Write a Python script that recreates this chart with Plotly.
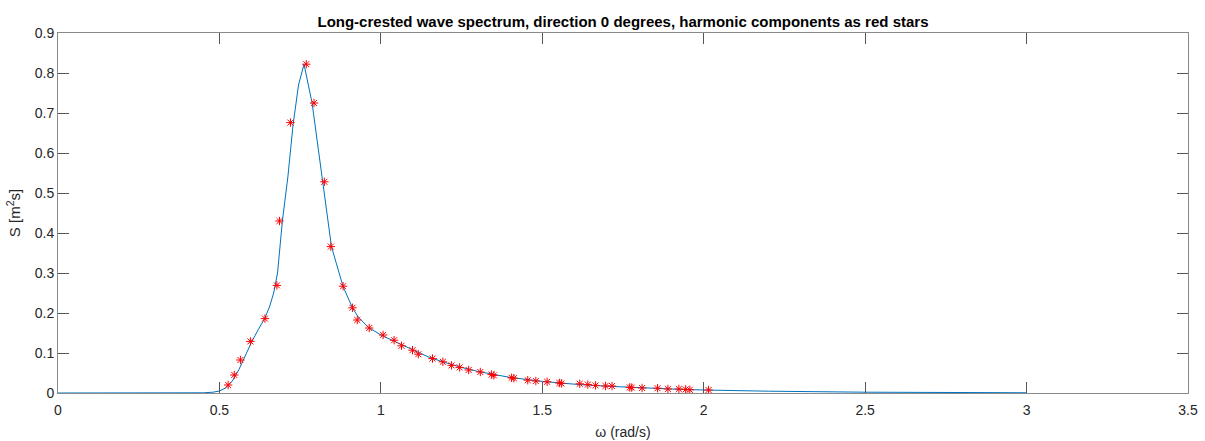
import plotly.graph_objects as go

# Continuous spectrum curve
omega_line = [0.0, 0.40, 0.45, 0.48, 0.50, 0.52, 0.54, 0.56, 0.58, 0.60, 0.62, 0.64, 0.655, 0.668,
              0.68, 0.695, 0.712, 0.728, 0.745, 0.762, 0.787, 0.819, 0.847, 0.883, 0.912, 0.93, 0.96,
              1.00, 1.05, 1.10, 1.15, 1.20, 1.25, 1.30, 1.35, 1.40, 1.50, 1.60, 1.70, 1.80, 1.90,
              2.00, 2.20, 2.50, 2.80, 3.00]
S_line = [0.0, 0.0, 0.0005, 0.002, 0.005, 0.013, 0.030, 0.058, 0.095, 0.128, 0.158, 0.186, 0.215, 0.250,
          0.300, 0.430, 0.540, 0.670, 0.770, 0.822, 0.725, 0.528, 0.366, 0.266, 0.213, 0.19, 0.165,
          0.145, 0.126, 0.106, 0.089, 0.076, 0.064, 0.054, 0.046, 0.039, 0.029, 0.022, 0.017, 0.013, 0.010,
          0.0075, 0.0045, 0.002, 0.001, 0.0006]

# Harmonic components (red stars)
omega_h = [0.527, 0.546, 0.565, 0.596, 0.641, 0.678, 0.686, 0.720, 0.769, 0.793, 0.825, 0.845,
           0.883, 0.912, 0.927, 0.964, 1.007, 1.041, 1.064, 1.098, 1.116, 1.160, 1.192, 1.219,
           1.244, 1.272, 1.308, 1.343, 1.350, 1.405, 1.412, 1.455, 1.480, 1.515, 1.553, 1.559,
           1.616, 1.641, 1.665, 1.696, 1.716, 1.771, 1.777, 1.809, 1.857, 1.889, 1.923, 1.944,
           1.957, 2.015]
S_h = [0.020, 0.045, 0.0825, 0.129, 0.186, 0.269, 0.430, 0.676, 0.822, 0.725, 0.528, 0.366,
       0.267, 0.213, 0.1825, 0.1625, 0.145, 0.132, 0.118, 0.107, 0.097, 0.086, 0.078, 0.069,
       0.064, 0.0575, 0.0525, 0.046, 0.044, 0.038, 0.037, 0.032, 0.030, 0.028, 0.025, 0.024,
       0.023, 0.021, 0.019, 0.0175, 0.0175, 0.014, 0.0135, 0.0125, 0.012, 0.010, 0.010, 0.009,
       0.008, 0.0075]

x_ticks = [0, 0.5, 1, 1.5, 2, 2.5, 3, 3.5]
x_ticklabels = ["0", "0.5", "1", "1.5", "2", "2.5", "3", "3.5"]
y_ticks = [0, 0.1, 0.2, 0.3, 0.4, 0.5, 0.6, 0.7, 0.8, 0.9]
y_ticklabels = ["0", "0.1", "0.2", "0.3", "0.4", "0.5", "0.6", "0.7", "0.8", "0.9"]

FONT = "Liberation Sans, Arial, sans-serif"

fig = go.Figure()
fig.add_trace(go.Scatter(x=omega_line, y=S_line, mode="lines",
                         line=dict(color="#0072BD", width=1), showlegend=False))
fig.add_trace(go.Scatter(x=omega_h, y=S_h, mode="markers",
                         marker=dict(symbol="asterisk-open", size=7, color="red",
                                     line=dict(color="red", width=1)),
                         showlegend=False))

axis_common = dict(showgrid=False, zeroline=False, showline=True, linecolor="#8a8a8a",
                   linewidth=1, mirror="ticks", ticks="inside", ticklen=11, tickwidth=1,
                   tickcolor="#555555", automargin=False,
                   tickfont=dict(family=FONT, size=14, color="#262626"))

fig.update_xaxes(range=[0, 3.5], tickvals=x_ticks, ticktext=x_ticklabels, ticklabelstandoff=4,
                 title=dict(text="ω (rad/s)", standoff=10,
                            font=dict(family=FONT, size=14, color="#262626")),
                 **axis_common)
fig.update_yaxes(range=[0, 0.9], tickvals=y_ticks, ticktext=y_ticklabels,
                 title=dict(text="S [m<sup>2</sup>s]", standoff=10,
                            font=dict(family=FONT, size=15, color="#262626")),
                 **axis_common)

fig.update_layout(
    width=1205, height=441,
    margin=dict(l=58, r=17, t=33, b=48, autoexpand=False),
    plot_bgcolor="white", paper_bgcolor="white",
    title=dict(text="<b>Long-crested wave spectrum, direction 0 degrees, harmonic components as red stars</b>",
               x=0.517, xanchor="center", y=0.95, yanchor="middle", automargin=False,
               font=dict(family=FONT, size=15, color="black")),
)

fig.write_html("out.html")
